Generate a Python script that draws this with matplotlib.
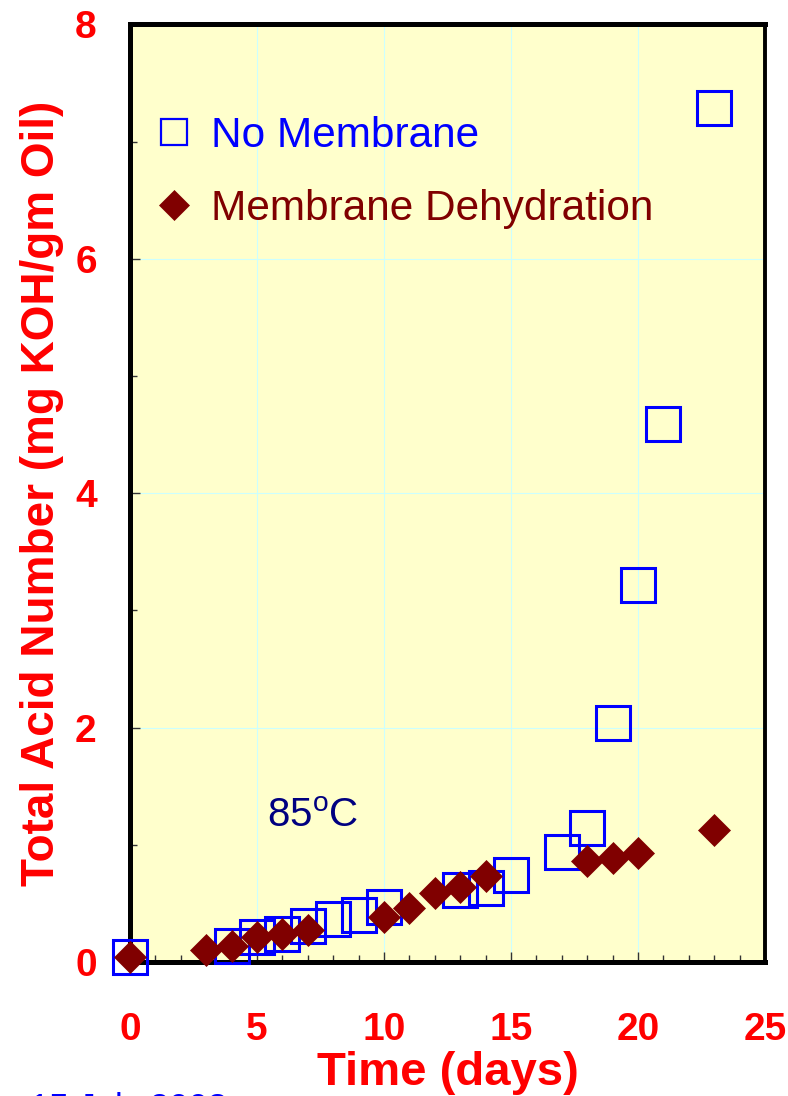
"""Total acid number vs time, with and without membrane dehydration (85 C)."""

import matplotlib

matplotlib.use("Agg")
import matplotlib.pyplot as plt
from matplotlib.lines import Line2D
from matplotlib.ticker import MultipleLocator

plt.rcParams["font.family"] = ["Liberation Sans", "DejaVu Sans"]
plt.rcParams["mathtext.fontset"] = "custom"
plt.rcParams["mathtext.rm"] = "Liberation Sans"

# --- data ---
no_mem_days = [0, 4, 5, 6, 7, 8, 9, 10, 13, 14, 15, 17, 18, 19, 20, 21, 23]
no_mem_tan = [0.04, 0.14, 0.21, 0.24, 0.31, 0.37, 0.40, 0.47, 0.61, 0.63, 0.74,
              0.94, 1.14, 2.04, 3.22, 4.59, 7.29]

dehyd_days = [0, 3, 4, 5, 6, 7, 10, 11, 12, 13, 14, 18, 19, 20, 23]
dehyd_tan = [0.04, 0.10, 0.14, 0.21, 0.24, 0.27, 0.38, 0.46, 0.59, 0.64, 0.73,
             0.86, 0.89, 0.93, 1.13]

series_labels = ["No Membrane", "Membrane Dehydration"]
x_label = "Time (days)"
y_label = "Total Acid Number (mg KOH/gm Oil)"
note = "85$^{\\mathrm{o}}$C"
footer = "15 July 2003"

BLUE = "#0000ff"
MAROON = "#800000"
RED = "#ff0000"
NAVY = "#000080"

fig = plt.figure(figsize=(7.88, 10.96), dpi=100)
ax = fig.add_axes([0.165, 0.1223, 0.8058, 0.8555])
ax.set_facecolor("#ffffcc")

ax.plot(no_mem_days, no_mem_tan, ls="none", marker="s", ms=24.5, mfc="none",
        mec=BLUE, mew=2.2, clip_on=False, zorder=5)
ax.plot(dehyd_days, dehyd_tan, ls="none", marker="D", ms=16.3, mfc=MAROON,
        mec=MAROON, mew=0.5, clip_on=False, zorder=6)

ax.set_xlim(0, 25)
ax.set_ylim(0, 8)
ax.xaxis.set_major_locator(MultipleLocator(5))
ax.xaxis.set_minor_locator(MultipleLocator(1))
ax.yaxis.set_major_locator(MultipleLocator(2))
ax.yaxis.set_minor_locator(MultipleLocator(1))
ax.grid(True, which="major", color="#ccffff", lw=0.8, zorder=0)
ax.set_axisbelow(True)

for side in ["left", "bottom", "top", "right"]:
    ax.spines[side].set_linewidth(3.6 if side != "right" else 2.8)
    ax.spines[side].set_color("black")

ax.tick_params(axis="both", which="both", direction="in", width=1, color="#333333")
ax.tick_params(axis="both", which="major", length=7)
ax.tick_params(axis="both", which="minor", length=5)
ax.tick_params(axis="x", which="major", pad=36, labelsize=28, labelcolor=RED)
ax.tick_params(axis="y", which="major", pad=24, labelsize=28, labelcolor=RED)
for lab in ax.get_xticklabels() + ax.get_yticklabels():
    lab.set_fontweight("bold")

ax.set_xlabel(x_label, fontsize=34, fontweight="bold", color=RED, labelpad=2)
ax.set_ylabel(y_label, fontsize=33, fontweight="bold", color=RED, labelpad=8)

handles = [
    Line2D([], [], ls="none", marker="s", ms=19, mfc="none", mec=BLUE, mew=1.6),
    Line2D([], [], ls="none", marker="D", ms=15, mfc=MAROON, mec=MAROON, mew=0.5),
]
leg = ax.legend(handles, series_labels, loc="upper left", bbox_to_anchor=(0.038, 0.902),
                frameon=False, fontsize=30.5, handlelength=0.95, handletextpad=0.4,
                labelspacing=0.78, borderpad=0, borderaxespad=0, numpoints=1)
for txt, c in zip(leg.get_texts(), [BLUE, MAROON]):
    txt.set_color(c)

ax.text(5.4, 1.15, note, fontsize=29, color=NAVY, ha="left", va="baseline")

fig.text(0.038, 0.004, footer, fontsize=25, color=BLUE, ha="left", va="top")

fig.savefig("out.png", dpi=100)
plt.close(fig)
